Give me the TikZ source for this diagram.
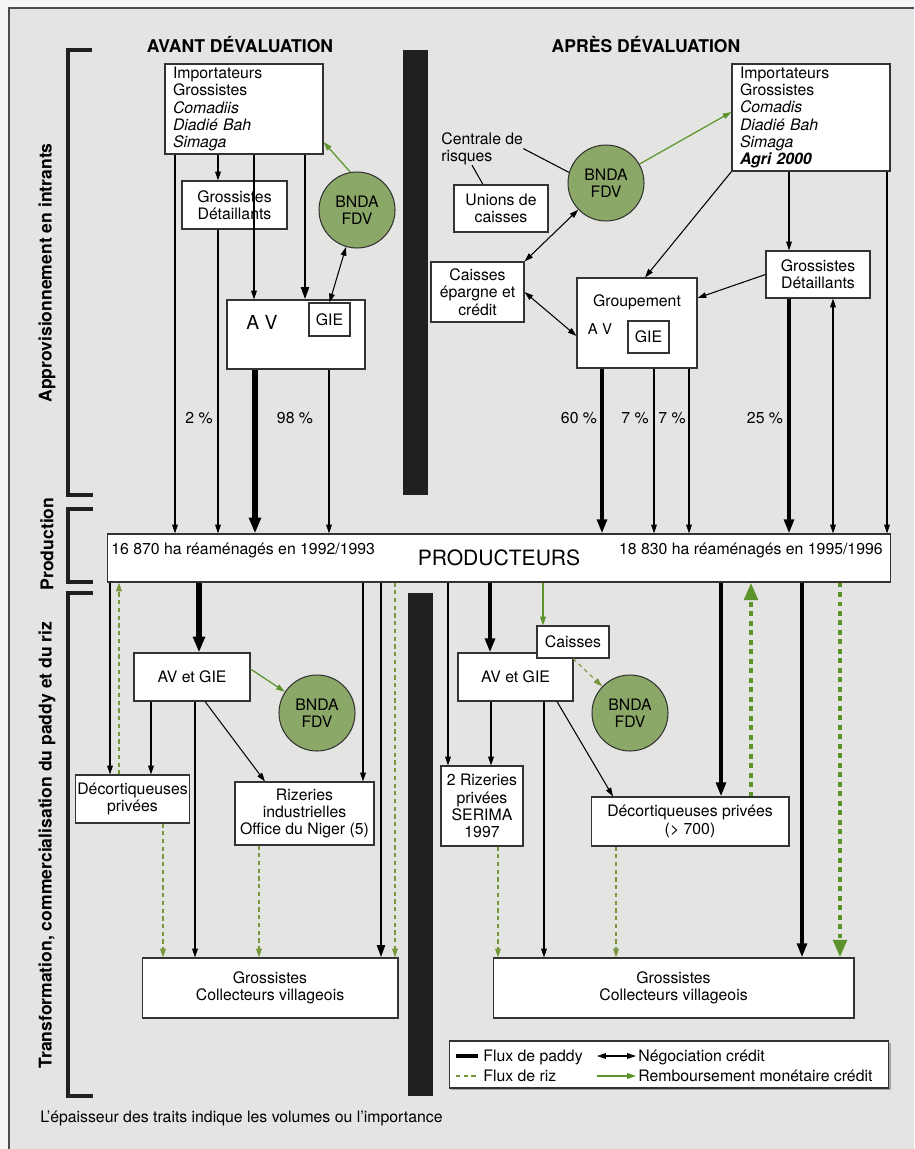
\documentclass[tikz,border=0pt]{standalone}
\usepackage{fontspec}
\setmainfont{TeX Gyre Heros}
\usetikzlibrary{arrows.meta,positioning,shadows}

\definecolor{fondcadre}{RGB}{228,228,226}
\definecolor{fondpage}{RGB}{244,244,243}
\definecolor{vertbnda}{RGB}{139,168,104}
\definecolor{vertcredit}{RGB}{92,148,44}
\definecolor{vertriz}{RGB}{118,150,58}
\definecolor{barre}{RGB}{32,32,32}

\begin{document}
\begin{tikzpicture}[
    x=0.02cm, y=-0.02cm,
    font=\fontsize{9}{9.8}\selectfont,
    >={Triangle[length=5pt,width=3.2pt]},
    boite/.style={draw=black!80, fill=white, line width=0.6pt, align=center, inner sep=1pt},
    liste/.style={boite, align=left, inner xsep=0.16cm, text width=2.84cm},
    bnda/.style={draw=black!80, fill=vertbnda, circle, minimum size=1.52cm, inner sep=0pt, align=center, line width=0.6pt},
    titre/.style={font=\fontsize{10}{12}\selectfont\bfseries},
    section/.style={font=\fontsize{10}{12}\selectfont\bfseries, rotate=90},
    crochet/.style={line width=2.3pt, draw=barre},
    fin/.style={->, line width=0.6pt},
    moyen/.style={-{Triangle[length=7pt,width=4.4pt]}, line width=1.5pt},
    epais/.style={-{Triangle[length=8pt,width=5.5pt]}, line width=2.4pt},
    tresepais/.style={-{Triangle[length=9pt,width=6.5pt]}, line width=3.6pt},
    nego/.style={<->, line width=0.6pt},
    lien/.style={line width=0.6pt},
    rembours/.style={->, draw=vertcredit, line width=0.7pt},
    riz/.style={->, draw=vertriz, line width=0.6pt, dash pattern=on 2.4pt off 2pt},
    rizfort/.style={-{Triangle[length=10pt,width=7.5pt]}, draw=vertcredit, line width=2.6pt, dash pattern=on 2.8pt off 2.6pt}
]
    \useasboundingbox (0,0) rectangle (914,1149);
    \fill[fondpage] (0,0) rectangle (914,1149);
    \fill[fondcadre] (9,8) rectangle (914,1149);
    \draw[black!70, line width=0.6pt] (914,8) -- (9,8) -- (9,1149);

    \node[titre] (avant) at (240,45) {AVANT DÉVALUATION};
    \node[titre] (apres) at (646,45) {APRÈS DÉVALUATION};

    \draw[crochet] (92,50) -- (68,50) -- (68,495) -- (93,495);
    \draw[crochet] (93,509) -- (68,509) -- (68,582) -- (93,582);
    \draw[crochet] (93,593) -- (68,593) -- (68,1096) -- (93,1096);
    \node[section] (approv) at (47,273) {Approvisionnement en intrants};
    \node[section] (product) at (47,544) {Production};
    \node[section] (transfo) at (47,845) {Transformation, commercialisation du paddy et du riz};

    \fill[barre] (403,50) rectangle (428,495);
    \fill[barre] (408,593) rectangle (433,1096);

    % avant devaluation, intrants
    \node[liste, minimum height=1.8cm] (impL) at (244,109)
        {Importateurs\\Grossistes\\\textit{Comadiis}\\\textit{Diadié Bah}\\\textit{Simaga}};
    \node[boite, minimum width=2.1cm, minimum height=0.96cm] (gdL) at (234.5,205) {Grossistes\\Détaillants};
    \node[bnda] (bndaA) at (357,210) {BNDA\\FDV};
    \node[boite, minimum width=2.76cm, minimum height=1.38cm] (avL) at (296,334.5) {};
    \node[font=\fontsize{11}{13}\selectfont] (avLtxt) at (262,322) {A V};
    \node[boite, minimum width=0.82cm, minimum height=0.66cm] (gieL) at (329.5,319.5) {GIE};

    % apres devaluation, intrants
    \node[liste, minimum height=2.14cm] (impR) at (811,117.5)
        {Importateurs\\Grossistes\\\textit{Comadis}\\\textit{Diadié Bah}\\\textit{Simaga}\\\textbf{\textit{Agri 2000}}};
    \node[anchor=north west, align=left, inner sep=0pt] (centrale) at (441,132) {Centrale de\\risques};
    \node[bnda] (bndaB) at (606,183) {BNDA\\FDV};
    \node[boite, minimum width=1.88cm, minimum height=0.94cm] (unions) at (501,208.5) {Unions de\\caisses};
    \node[boite, minimum width=1.86cm, minimum height=1.2cm] (caisseEC) at (477.5,292) {Caisses\\épargne et\\crédit};
    \node[boite, minimum width=2.4cm, minimum height=1.8cm] (grp) at (637,323) {};
    \node (grpTxt) at (637,302) {Groupement};
    \node[font=\fontsize{8.5}{10}\selectfont] (grpAV) at (600,329) {A V};
    \node[boite, minimum width=0.82cm, minimum height=0.64cm] (gieR) at (648.5,337) {GIE};
    \node[boite, minimum width=2.08cm, minimum height=0.94cm] (gdR) at (818,274.5) {Grossistes\\Détaillants};

    \node[boite, minimum width=15.68cm, minimum height=0.96cm, font=\fontsize{12}{14}\selectfont] (prod) at (499,558) {PRODUCTEURS};
    \node[anchor=base west, inner sep=0pt] (prodL) at (111,554) {16 870 ha réaménagés en 1992/1993};
    \node[anchor=base east, inner sep=0pt] (prodR) at (883,554) {18 830 ha réaménagés en 1995/1996};

    % transformation, commercialisation
    \node[boite, minimum width=2.32cm, minimum height=0.96cm] (avgL) at (192,677) {AV et GIE};
    \node[bnda] (bndaC) at (317,713) {BNDA\\FDV};
    \node[boite, minimum width=2.26cm, minimum height=0.96cm] (decL) at (132.5,799) {Décortiqueuses\\privées};
    \node[boite, minimum width=2.78cm, minimum height=1.26cm] (rizL) at (304.5,813.5) {Rizeries\\industrielles\\Office du Niger (5)};
    \node[boite, minimum width=5.12cm, minimum height=1.2cm] (gcL) at (270,988) {Grossistes\\Collecteurs villageois};

    \node[boite, minimum width=2.3cm, minimum height=0.96cm] (avgR) at (515.5,677) {AV et GIE};
    \node[boite, minimum width=1.44cm, minimum height=0.64cm] (caisses) at (573,642) {Caisses};
    \node[bnda] (bndaD) at (630,713) {BNDA\\FDV};
    \node[boite, minimum width=1.64cm, minimum height=1.6cm] (rizR) at (482,806) {2 Rizeries\\privées\\SERIMA\\1997};
    \node[boite, minimum width=3.96cm, minimum height=0.98cm] (decR) at (690,821.5) {Décortiqueuses privées\\(> 700)};
    \node[boite, minimum width=7.22cm, minimum height=1.2cm] (gcR) at (673.5,988) {Grossistes\\Collecteurs villageois};

    \draw[fin] (impL.south -| 175,0) -- (prod.north -| 175,0);
    \draw[fin] (impL.south -| 218,0) -- (gdL.north -| 218,0);
    \draw[fin] (gdL.south -| 218,0) -- (prod.north -| 218,0);
    \draw[fin] (impL.south -| 254,0) -- (avL.north -| 254,0);
    \draw[moyen] (impL.south -| 305,0) -- (avL.north -| 305,0);
    \draw[nego] (bndaA) -- (gieL.north);
    \draw[rembours] (bndaA.100) -- (impL.east |- 0,142);
    \draw[tresepais] (avL.south -| 255,0) -- (prod.north -| 255,0);
    \draw[fin] (avL.south -| 329,0) -- (prod.north -| 329,0);

    \draw[lien] (centrale.east) -- (bndaB.164);
    \draw[lien] (centrale.south -| 472,0) -- (unions.north -| 483,0);
    \draw[rembours] (bndaB) -- (impR.west |- 0,112);
    \draw[nego] (bndaB) -- (caisseEC.north east);
    \draw[nego] (caisseEC.east) -- (grp.west |- 0,336);
    \draw[fin] (impR.south west) -- (grp.north -| 645,0);
    \draw[fin] (impR.south -| 789,0) -- (gdR.north -| 789,0);
    \draw[fin] (gdR.west) -- (grp.east |- 0,298);
    \draw[fin] (impR.south -| 887,0) -- (prod.north -| 887,0);
    \draw[epais] (grp.south -| 602,0) -- (prod.north -| 602,0);
    \draw[fin] (grp.south -| 654,0) -- (prod.north -| 654,0);
    \draw[fin] (grp.south -| 689,0) -- (prod.north -| 689,0);
    \draw[epais] (gdR.south -| 789,0) -- (prod.north -| 789,0);
    \draw[nego] (gdR.south -| 833,0) -- (prod.north -| 833,0);

    \node (pc2) at (199,418) {2~\%};
    \node (pc98) at (295,418) {98~\%};
    \node (pc60) at (579,418) {60~\%};
    \node (pc7a) at (635,418) {7~\%};
    \node (pc7b) at (672,418) {7~\%};
    \node (pc25) at (765,418) {25~\%};

    \draw[tresepais] (prod.south -| 199,0) -- (avgL.north -| 199,0);
    \draw[rembours] (avgL.east |- 0,669) -- (bndaC);
    \draw[fin] (prod.south -| 110,0) -- (decL.north -| 110,0);
    \draw[riz] (decL.north -| 119,0) -- (prod.south -| 119,0);
    \draw[fin] (avgL.south -| 151,0) -- (decL.north -| 151,0);
    \draw[fin] (avgL.south -| 195,0) -- (gcL.north -| 195,0);
    \draw[fin] (avgL.south -| 205,0) -- (rizL.north -| 265,0);
    \draw[fin] (prod.south -| 363,0) -- (rizL.north -| 363,0);
    \draw[moyen] (prod.south -| 381,0) -- (gcL.north -| 381,0);
    \draw[riz] (prod.south -| 395,0) -- (gcL.north -| 395,0);
    \draw[riz] (decL.south -| 163,0) -- (gcL.north -| 163,0);
    \draw[riz] (rizL.south -| 259,0) -- (gcL.north -| 259,0);

    \draw[fin] (prod.south -| 448,0) -- (rizR.north -| 448,0);
    \draw[epais] (prod.south -| 490,0) -- (avgR.north -| 490,0);
    \draw[rembours] (prod.south -| 543,0) -- (caisses.north -| 543,0);
    \draw[riz] (caisses.south) -- (bndaD);
    \draw[fin] (avgR.south -| 491,0) -- (rizR.north -| 491,0);
    \draw[fin] (avgR.south -| 544,0) -- (gcR.north -| 544,0);
    \draw[fin] (avgR.south -| 557,0) -- (decR.north -| 613,0);
    \draw[epais] (prod.south -| 721,0) -- (decR.north -| 721,0);
    \draw[rizfort] (decR.north -| 751,0) -- (prod.south -| 751,0);
    \draw[epais] (prod.south -| 802,0) -- (gcR.north -| 802,0);
    \draw[rizfort] (prod.south -| 840,0) -- (gcR.north -| 840,0);
    \draw[riz] (decR.south -| 616,0) -- (gcR.north -| 616,0);
    \draw[riz] (rizR.south -| 498,0) -- (gcR.north -| 498,0);

    % legende
    \node[boite, minimum width=8.8cm, minimum height=0.94cm,
          drop shadow={shadow xshift=1.2pt, shadow yshift=-1.2pt, fill=black!60}] (legende) at (669,1064.5) {};
    \coordinate (lpA) at (456,1056); \coordinate (lpB) at (478,1056);
    \coordinate (lrA) at (456,1076); \coordinate (lrB) at (478,1076);
    \coordinate (lnA) at (597,1056); \coordinate (lnB) at (636,1056);
    \coordinate (lcA) at (597,1076); \coordinate (lcB) at (636,1076);
    \draw[line width=2.3pt] (lpA) -- (lpB);
    \draw[riz, -] (lrA) -- (lrB);
    \draw[nego] (lnA) -- (lnB);
    \draw[rembours] (lcA) -- (lcB);
    \node[anchor=base west, inner sep=0pt] (lpaddy) at (483,1061) {Flux de paddy};
    \node[anchor=base west, inner sep=0pt] (lriz) at (483,1081) {Flux de riz};
    \node[anchor=base west, inner sep=0pt] (lnego) at (638,1061) {Négociation crédit};
    \node[anchor=base west, inner sep=0pt] (lcred) at (638,1081) {Remboursement monétaire crédit};

    \node[anchor=base west, inner sep=0pt] (note) at (40,1122) {L'épaisseur des traits indique les volumes ou l'importance};
\end{tikzpicture}
\end{document}
